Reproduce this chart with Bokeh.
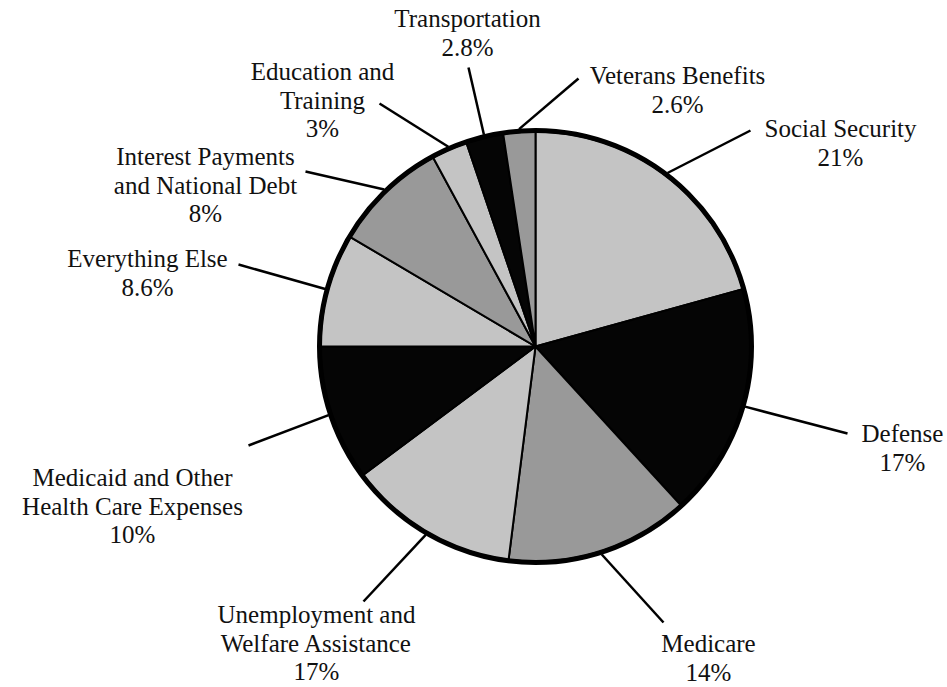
import math
from bokeh.plotting import figure
from bokeh.models import Range1d, ColumnDataSource
from bokeh.core.properties import value
from bokeh.embed import file_html
from bokeh.resources import INLINE

# ---- data (clockwise from 12 o'clock) ----
categories = ["Social Security", "Defense", "Medicare",
              "Unemployment and\nWelfare Assistance",
              "Medicaid and Other\nHealth Care Expenses",
              "Everything Else", "Interest Payments\nand National Debt",
              "Education and\nTraining", "Transportation", "Veterans Benefits"]
pct_labels = ["21%", "17%", "14%", "17%", "10%", "8.6%", "8%", "3%", "2.8%", "2.6%"]
# slice sizes as drawn in the picture (percent of the circle)
shares = [20.7, 17.5, 13.8, 12.8, 10.2, 8.5, 8.6, 2.7, 2.8, 2.4]
colors = ["#c4c4c4", "#050505", "#999999", "#c4c4c4", "#050505",
          "#c4c4c4", "#999999", "#c4c4c4", "#050505", "#999999"]

# ---- layout (pixels from top-left) ----
W, H = 947, 687
CX, CY, R = 535, 346, 215
label_cx = [840, 902, 708, 316, 132, 147, 205, 322, 467, 677]
label_y0 = [128, 433, 643, 614, 477, 258, 156, 71, 18, 75]
leader_end = [(750, 130), (847, 433), (663, 622), (363, 601), (248, 445),
              (238, 264), (305, 171), (379, 103), (468, 67), (578, 78)]
LINE_H = 28.7

p = figure(width=W, height=H, x_range=Range1d(0, W), y_range=Range1d(0, H),
           output_backend="svg", toolbar_location=None, min_border=0)
p.axis.visible = False
p.grid.visible = False
p.outline_line_color = None
p.background_fill_color = "white"
p.border_fill_color = "white"

cx, cy = CX, H - CY
total = sum(shares)
starts, ends, mids = [], [], []
cum = 0.0
for s in shares:
    a0 = math.pi / 2 - 2 * math.pi * cum / total
    a1 = math.pi / 2 - 2 * math.pi * (cum + s) / total
    starts.append(a0)
    ends.append(a1)
    mids.append((a0 + a1) / 2)
    cum += s

src = ColumnDataSource(dict(start=starts, end=ends, color=colors))
p.wedge(x=cx, y=cy, radius=R, start_angle="start", end_angle="end",
        direction="clock", fill_color="color", line_color="black",
        line_width=2, source=src)
p.circle(x=[cx], y=[cy], radius=R + 1, fill_color=None,
         line_color="black", line_width=5)

# leader lines
x0 = [cx + (R + 3) * math.cos(m) for m in mids]
y0 = [cy + (R + 3) * math.sin(m) for m in mids]
x1 = [e[0] for e in leader_end]
y1 = [H - e[1] for e in leader_end]
p.segment(x0=x0, y0=y0, x1=x1, y1=y1, line_color="black", line_width=2.5)

# labels
tx, ty, tt = [], [], []
for i, name in enumerate(categories):
    lines = name.split("\n") + [pct_labels[i]]
    for j, ln in enumerate(lines):
        tx.append(label_cx[i])
        ty.append(H - (label_y0[i] + LINE_H * j))
        tt.append(ln)
p.text(x=tx, y=ty, text=tt, text_font=value("Liberation Serif"),
       text_font_size="25px", text_align="center", text_baseline="middle",
       text_color="#111111")

open("out.html", "w").write(file_html(p, INLINE))
